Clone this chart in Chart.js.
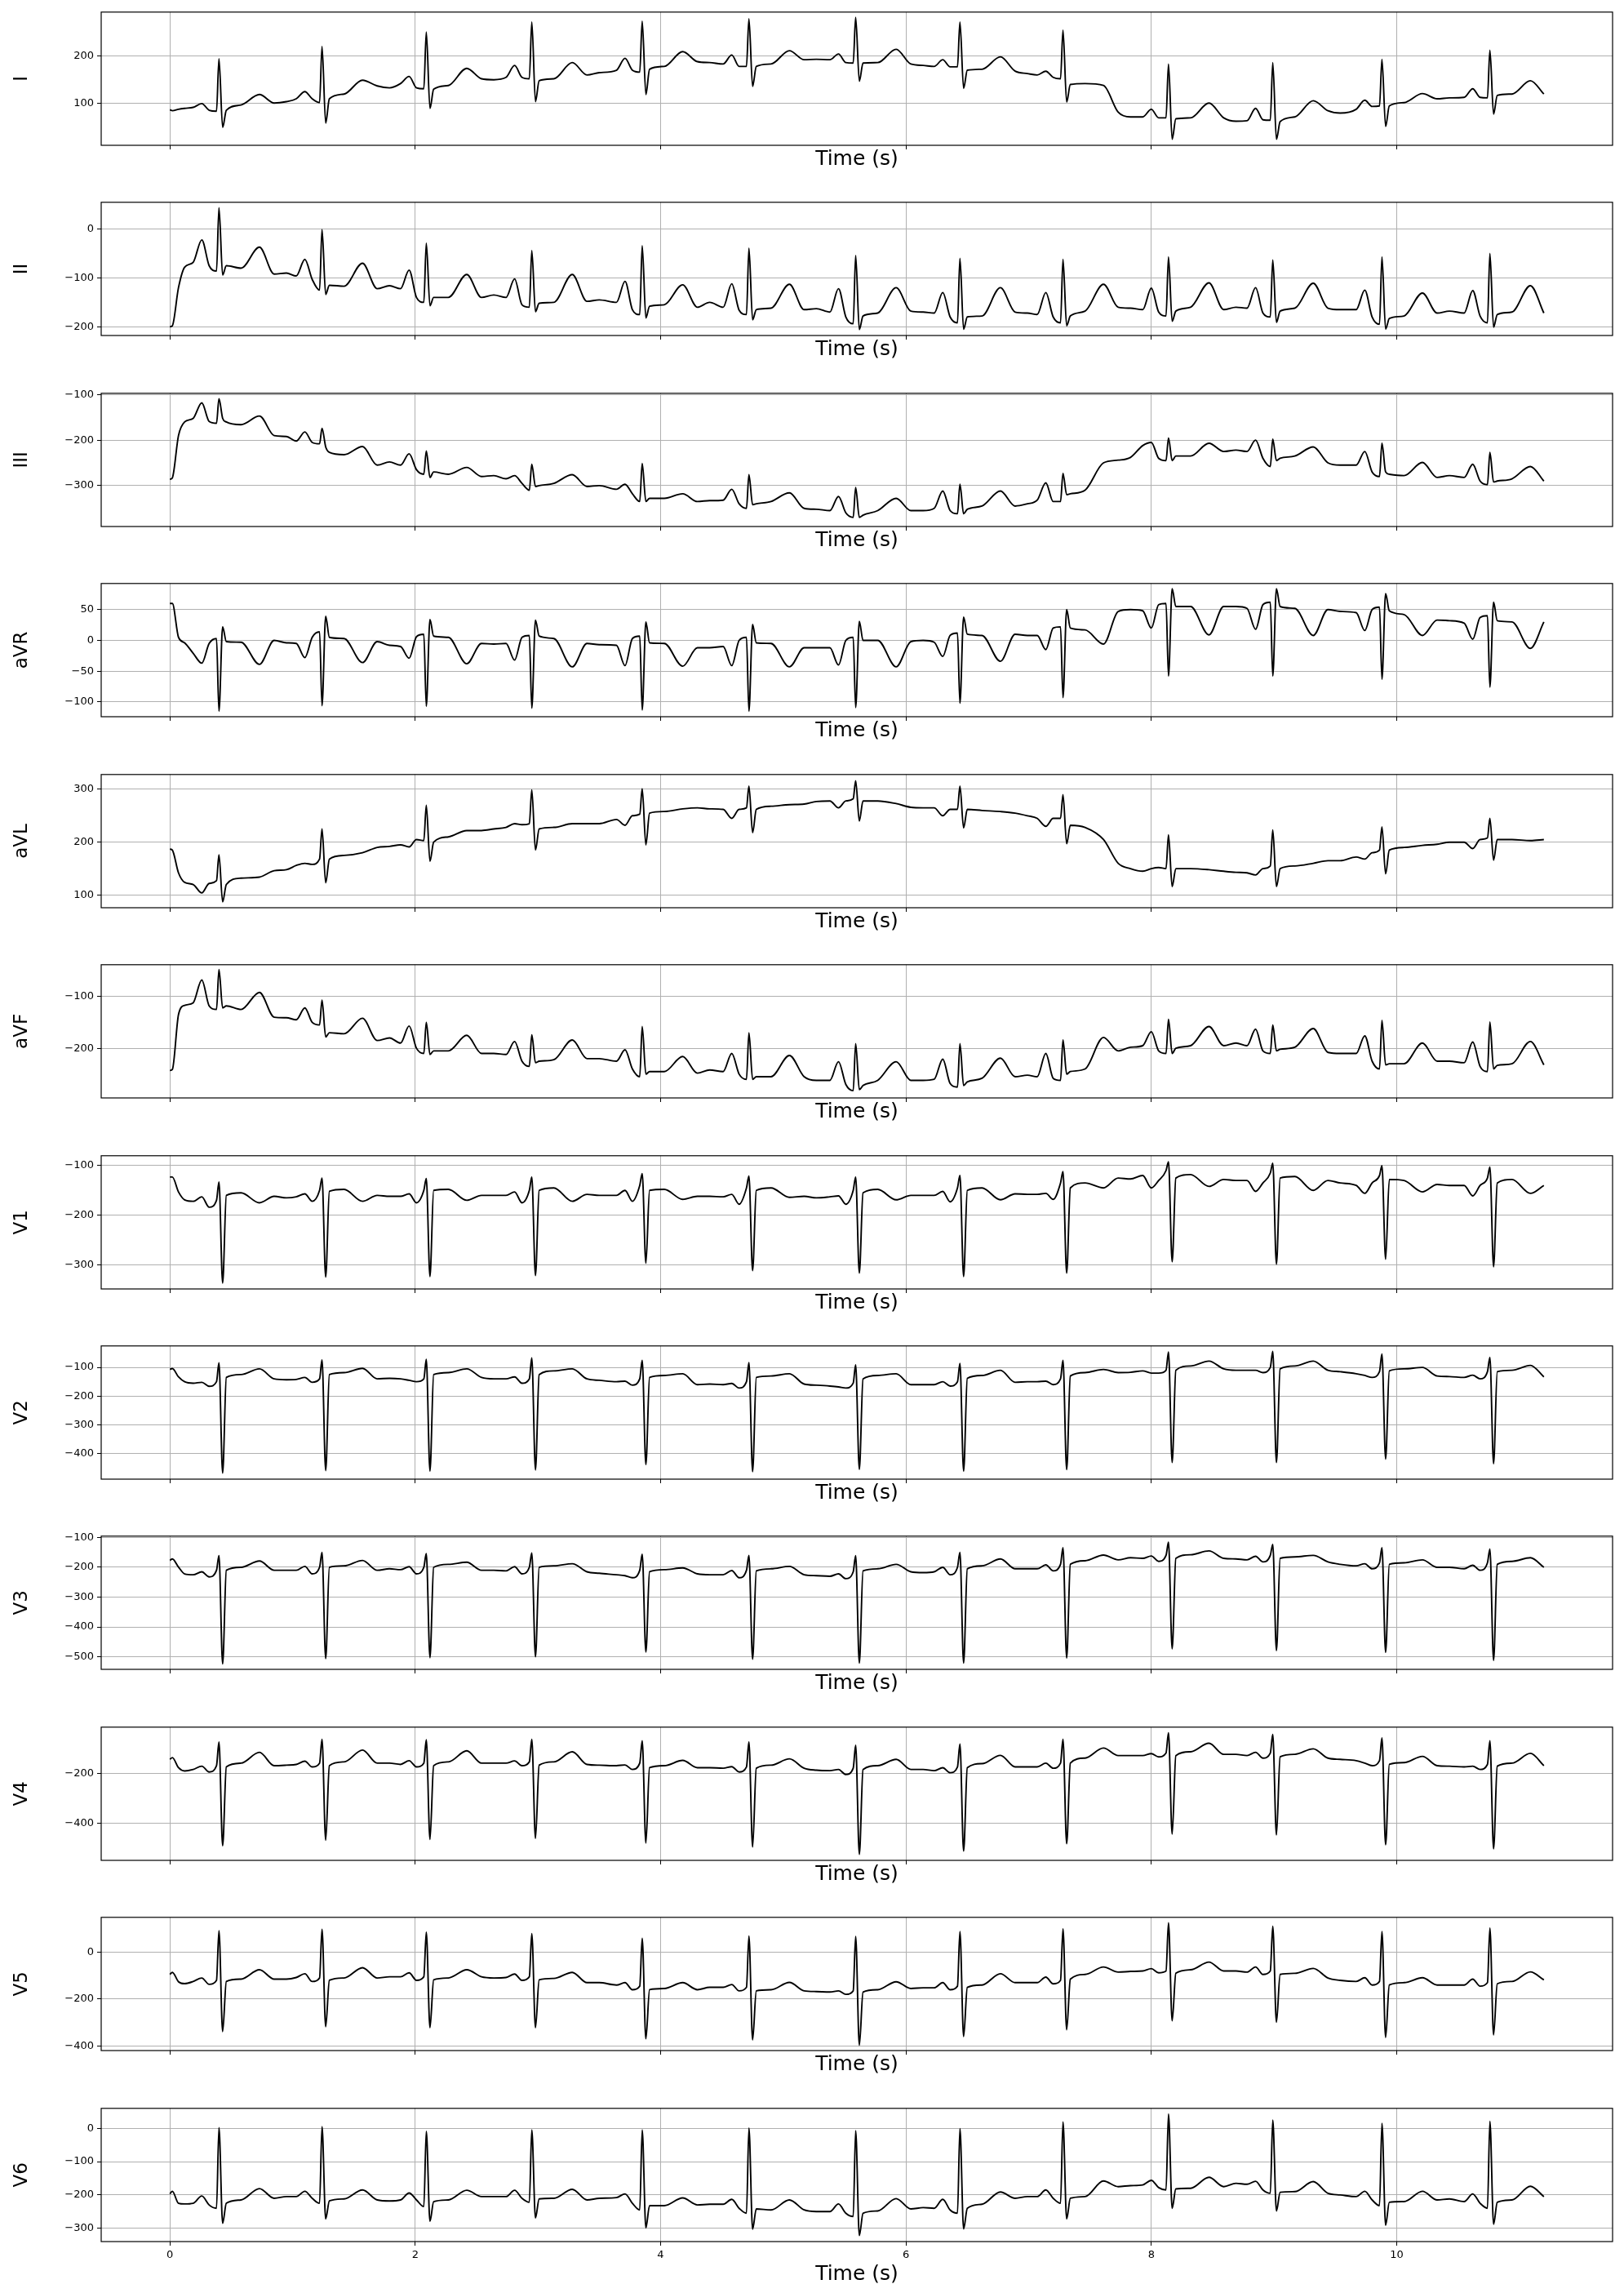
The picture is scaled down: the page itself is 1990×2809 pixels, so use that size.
<!DOCTYPE html>
<html><head><meta charset="utf-8">
<script src="https://cdn.jsdelivr.net/npm/chart.js@4.4.1/dist/chart.umd.min.js"></script>
<style>
html,body{margin:0;padding:0;background:#fff;}
body{width:1990px;height:2809px;position:relative;overflow:hidden;}
canvas{position:absolute;left:0;}
</style></head><body>
<script>
// ---------- DATA ----------
const timeS = [0.00,0.02,0.07,0.12,
0.19,0.26,0.32,0.38,0.40,0.43,0.46,0.58,0.73,0.85,0.95,
1.03,1.10,1.16,1.22,1.24,1.27,1.30,1.42,1.57,1.69,1.79,
1.88,1.95,2.01,2.07,2.09,2.12,2.15,2.27,2.42,2.54,2.64,
2.74,2.81,2.87,2.93,2.95,2.98,3.01,3.13,3.28,3.40,3.50,
3.64,3.71,3.77,3.83,3.85,3.88,3.91,4.03,4.18,4.30,4.40,
4.51,4.58,4.64,4.70,4.72,4.75,4.78,4.90,5.05,5.17,5.27,
5.38,5.45,5.51,5.57,5.59,5.62,5.65,5.77,5.92,6.04,6.14,
6.23,6.30,6.36,6.42,6.44,6.47,6.50,6.62,6.77,6.89,6.99,
7.07,7.14,7.20,7.26,7.28,7.31,7.34,7.46,7.61,7.73,7.83,
7.93,8.00,8.06,8.12,8.14,8.17,8.20,8.32,8.47,8.59,8.69,
8.78,8.85,8.91,8.97,8.99,9.02,9.05,9.17,9.32,9.44,9.54,
9.67,9.74,9.80,9.86,9.88,9.91,9.94,10.06,10.21,10.33,10.43,
10.55,10.62,10.68,10.74,10.76,10.79,10.82,10.94,11.09,11.20];

const leadI = [87,85,88,90,
92,100,86,84,194,50,86,97,119,101,104,
110,125,110,102,220,59,110,120,149,137,133,
142,157,133,131,250,90,130,138,174,152,150,
155,180,155,152,271,104,148,152,186,160,165,
170,195,170,166,273,119,172,178,209,188,186,
183,202,178,178,278,136,178,183,211,192,193,
192,204,186,185,281,147,185,186,214,183,180,
178,192,177,177,271,132,170,172,198,168,163,
160,168,155,152,254,103,140,142,138,82,72,
72,88,70,70,183,25,68,70,101,70,63,
64,90,66,65,186,25,62,72,106,85,80,
88,107,94,95,193,52,95,102,121,110,112,
113,131,113,112,212,78,117,120,148,120];

const leadII = [-200,-198,-120,-78,
-68,-22,-75,-86,44,-94,-75,-80,-37,-92,-90,
-96,-62,-103,-125,-1,-134,-115,-117,-70,-122,-116,
-122,-84,-140,-150,-29,-157,-140,-140,-93,-140,-135,
-140,-102,-155,-160,-44,-169,-152,-150,-93,-148,-145,
-150,-107,-165,-175,-34,-182,-158,-155,-114,-160,-150,
-160,-112,-166,-175,-39,-186,-165,-162,-113,-165,-163,
-170,-122,-180,-194,-54,-206,-178,-172,-120,-168,-170,
-172,-130,-180,-192,-60,-205,-180,-178,-120,-170,-172,
-175,-130,-180,-192,-62,-198,-178,-168,-113,-160,-162,
-165,-121,-170,-178,-57,-189,-168,-160,-110,-165,-160,
-162,-120,-172,-180,-63,-191,-168,-162,-111,-162,-165,
-165,-125,-180,-195,-57,-205,-183,-178,-131,-172,-168,
-172,-126,-178,-192,-50,-201,-175,-170,-116,-172];

const leadIII = [-286,-283,-190,-160,
-152,-118,-159,-163,-109,-152,-160,-166,-147,-190,-192,
-202,-182,-205,-208,-174,-215,-227,-232,-214,-255,-248,
-255,-230,-265,-275,-224,-282,-270,-275,-260,-280,-278,
-285,-278,-295,-310,-253,-302,-300,-295,-276,-302,-300,
-308,-297,-318,-335,-251,-335,-328,-328,-318,-335,-333,
-332,-308,-340,-350,-276,-342,-340,-335,-316,-350,-352,
-355,-324,-360,-370,-304,-370,-365,-355,-328,-355,-355,
-350,-312,-355,-362,-297,-362,-352,-345,-312,-345,-340,
-332,-294,-335,-335,-273,-320,-318,-310,-250,-244,-238,
-212,-205,-240,-245,-195,-245,-235,-235,-207,-225,-222,
-225,-200,-240,-258,-198,-245,-240,-235,-215,-250,-255,
-255,-225,-270,-280,-207,-270,-275,-278,-249,-282,-278,
-282,-253,-290,-298,-227,-292,-290,-285,-258,-290];

const leadAVR = [60,60,5,-4,
-21,-37,-5,3,-115,22,-2,-3,-39,0,-4,
-5,-28,5,14,-106,39,5,3,-36,-2,-8,
-10,-29,6,10,-107,34,7,5,-38,-5,-6,
-5,-32,5,8,-110,33,7,3,-43,-5,-7,
-8,-41,3,7,-113,30,-4,-5,-42,-12,-12,
-10,-41,0,5,-115,26,-4,-5,-43,-12,-12,
-12,-40,0,5,-109,31,0,0,-43,-2,0,
-3,-26,8,12,-102,38,10,8,-34,10,8,
8,-15,20,22,-93,50,20,17,-6,47,50,
48,20,58,60,-58,84,55,55,9,55,55,
52,18,58,62,-58,84,55,52,8,50,47,
45,16,50,54,-63,76,48,42,8,33,32,
28,2,37,40,-76,62,32,30,-13,30];

const leadAVL = [187,185,142,124,
120,104,122,127,176,87,120,132,134,146,148,
156,160,158,168,225,123,168,175,180,190,192,
195,191,205,203,270,164,200,210,222,222,225,
228,235,233,235,299,185,225,228,235,235,235,
243,232,250,253,301,195,255,258,263,265,263,
262,245,262,265,306,218,262,268,271,272,277,
278,265,278,282,316,240,278,278,273,266,265,
265,250,262,262,306,227,262,260,258,255,250,
245,230,245,245,290,197,232,228,205,160,150,
145,150,152,150,214,116,150,150,148,145,143,
142,138,150,155,223,116,150,155,160,165,165,
172,168,180,185,229,140,185,190,194,196,200,
200,188,205,208,245,166,205,205,203,205];

const leadAVF = [-243,-241,-135,-117,
-112,-68,-118,-125,-48,-122,-118,-125,-92,-140,-141,
-145,-122,-150,-155,-107,-178,-170,-172,-142,-185,-180,
-190,-157,-200,-210,-150,-212,-205,-205,-175,-210,-210,
-212,-187,-225,-235,-174,-228,-225,-222,-184,-220,-220,
-225,-203,-240,-255,-158,-250,-245,-245,-216,-248,-242,
-245,-210,-250,-260,-170,-260,-255,-255,-214,-255,-262,
-262,-226,-270,-282,-191,-280,-272,-262,-226,-262,-262,
-260,-221,-268,-275,-191,-272,-265,-258,-219,-255,-252,
-255,-210,-258,-262,-184,-250,-245,-240,-179,-205,-198,
-195,-168,-205,-210,-144,-210,-200,-195,-158,-195,-190,
-195,-163,-205,-210,-155,-205,-202,-198,-162,-208,-210,
-210,-176,-225,-240,-146,-232,-230,-230,-190,-225,-225,
-228,-188,-235,-245,-149,-240,-233,-230,-187,-232];

const leadV1 = [-123,-123,-153,-169,
-172,-163,-184,-170,-133,-337,-160,-155,-175,-162,-165,
-163,-157,-172,-150,-125,-325,-152,-148,-172,-160,-162,
-162,-157,-175,-150,-126,-324,-150,-148,-170,-160,-160,
-160,-153,-175,-150,-123,-322,-150,-145,-172,-158,-160,
-160,-150,-172,-140,-116,-297,-150,-148,-168,-162,-162,
-163,-158,-178,-145,-121,-312,-150,-145,-164,-162,-165,
-163,-161,-178,-150,-123,-317,-155,-148,-169,-160,-160,
-160,-152,-173,-145,-120,-324,-150,-145,-169,-157,-158,
-158,-156,-168,-135,-112,-317,-145,-135,-145,-125,-127,
-120,-145,-130,-110,-92,-294,-125,-118,-142,-128,-130,
-130,-152,-135,-115,-95,-299,-125,-122,-150,-130,-135,
-140,-156,-135,-120,-100,-289,-128,-130,-153,-138,-140,
-140,-161,-140,-125,-103,-304,-135,-128,-156,-140];

const leadV2 = [-107,-104,-133,-150,
-155,-152,-166,-150,-84,-469,-135,-125,-105,-140,-143,
-142,-135,-152,-140,-74,-460,-125,-118,-103,-140,-138,
-140,-145,-150,-140,-72,-462,-125,-118,-105,-135,-140,
-140,-133,-155,-140,-67,-458,-125,-112,-105,-140,-145,
-150,-148,-162,-140,-75,-439,-135,-128,-122,-160,-158,
-160,-156,-172,-150,-83,-464,-135,-130,-122,-158,-162,
-165,-168,-172,-155,-91,-456,-140,-128,-122,-160,-160,
-160,-150,-165,-150,-86,-462,-138,-128,-110,-152,-150,
-150,-148,-160,-140,-75,-457,-130,-118,-107,-118,-117,
-112,-120,-120,-110,-46,-432,-110,-95,-78,-105,-110,
-110,-110,-118,-100,-44,-432,-105,-95,-78,-110,-115,
-122,-128,-135,-115,-53,-420,-112,-105,-100,-130,-132,
-135,-127,-140,-115,-65,-436,-115,-110,-93,-133];

const leadV3 = [-177,-172,-199,-222,
-225,-215,-232,-210,-161,-524,-210,-200,-179,-210,-210,
-210,-197,-222,-200,-150,-506,-200,-195,-177,-210,-205,
-208,-198,-222,-200,-154,-503,-200,-190,-183,-210,-210,
-212,-198,-222,-200,-152,-500,-200,-195,-188,-215,-220,
-225,-228,-235,-210,-156,-484,-215,-208,-202,-222,-225,
-225,-211,-235,-210,-160,-508,-212,-205,-197,-225,-228,
-230,-222,-238,-215,-161,-521,-212,-205,-190,-215,-218,
-215,-200,-225,-200,-150,-521,-205,-195,-172,-205,-205,
-205,-192,-212,-190,-134,-504,-190,-178,-159,-175,-168,
-170,-162,-180,-160,-116,-473,-170,-158,-145,-170,-172,
-175,-163,-182,-160,-123,-479,-170,-165,-160,-182,-190,
-195,-188,-205,-185,-134,-485,-190,-185,-175,-200,-200,
-205,-193,-210,-185,-139,-512,-190,-180,-168,-200];

const leadV4 = [-145,-138,-178,-191,
-185,-172,-195,-170,-76,-488,-175,-160,-117,-170,-168,
-165,-152,-175,-160,-65,-466,-170,-155,-108,-160,-160,
-165,-150,-175,-160,-67,-463,-170,-155,-111,-160,-160,
-160,-151,-170,-155,-65,-459,-168,-155,-115,-165,-168,
-170,-167,-185,-160,-71,-477,-178,-170,-149,-178,-178,
-180,-174,-195,-175,-76,-493,-180,-168,-143,-180,-188,
-190,-185,-205,-180,-89,-522,-185,-170,-145,-185,-185,
-190,-178,-198,-175,-84,-509,-178,-162,-129,-175,-175,
-175,-160,-180,-160,-65,-480,-160,-140,-100,-130,-130,
-130,-122,-135,-120,-39,-442,-130,-115,-81,-125,-125,
-130,-117,-140,-120,-46,-445,-135,-125,-103,-140,-145,
-150,-160,-170,-150,-60,-484,-165,-158,-133,-170,-172,
-175,-172,-185,-165,-71,-500,-172,-160,-121,-170];

const leadV5 = [-95,-86,-126,-134,
-125,-110,-137,-120,92,-339,-125,-115,-75,-115,-115,
-108,-92,-125,-110,98,-318,-120,-110,-66,-110,-105,
-105,-88,-120,-105,86,-322,-118,-110,-75,-105,-110,
-108,-93,-120,-105,80,-322,-118,-112,-86,-130,-130,
-140,-130,-160,-145,60,-370,-160,-155,-130,-160,-150,
-150,-138,-165,-150,69,-374,-165,-160,-129,-165,-168,
-170,-165,-180,-165,67,-397,-170,-160,-126,-155,-152,
-152,-130,-160,-145,88,-360,-150,-140,-92,-130,-130,
-130,-106,-135,-120,100,-331,-115,-95,-63,-85,-82,
-80,-70,-88,-80,126,-293,-90,-75,-42,-80,-80,
-85,-63,-95,-80,111,-299,-95,-90,-69,-110,-120,
-125,-109,-140,-125,88,-364,-140,-130,-109,-140,-140,
-140,-115,-145,-130,103,-353,-135,-125,-84,-118];

const leadV6 = [-197,-189,-225,-227,
-225,-203,-230,-240,2,-285,-225,-215,-181,-210,-205,
-205,-189,-210,-225,5,-272,-218,-212,-185,-215,-218,
-215,-194,-215,-235,-9,-279,-220,-215,-186,-205,-205,
-205,-186,-210,-222,-5,-269,-212,-210,-183,-215,-210,
-208,-197,-225,-245,-5,-299,-232,-232,-209,-230,-228,
-228,-213,-240,-255,1,-303,-242,-245,-215,-245,-250,
-250,-227,-255,-265,-7,-322,-255,-248,-211,-242,-238,
-240,-213,-245,-255,-1,-302,-240,-228,-191,-210,-205,
-205,-185,-210,-225,19,-272,-210,-205,-158,-175,-172,
-170,-156,-178,-185,43,-240,-182,-180,-147,-175,-165,
-168,-159,-185,-195,25,-248,-192,-190,-160,-195,-200,
-205,-189,-215,-232,15,-291,-222,-220,-189,-215,-212,
-220,-197,-225,-240,21,-288,-222,-215,-174,-205];

const leadNames = ['I','II','III','aVR','aVL','aVF','V1','V2','V3','V4','V5','V6'];
const xTickValues = [0, 2, 4, 6, 8, 10];
const yTicksI = [100, 200];
const yTicksII = [-200, -100, 0];
const yTicksIII = [-300, -200, -100];
const yTicksAVR = [-100, -50, 0, 50];
const yTicksAVL = [100, 200, 300];
const yTicksAVF = [-200, -100];
const yTicksV1 = [-300, -200, -100];
const yTicksV2 = [-400, -300, -200, -100];
const yTicksV3 = [-500, -400, -300, -200, -100];
const yTicksV4 = [-400, -200];
const yTicksV5 = [-400, -200, 0];
const yTicksV6 = [-300, -200, -100, 0];
const xLabel = 'Time (s)';

// ---------- LAYOUT / STYLE ----------
const leadValues = [leadI, leadII, leadIII, leadAVR, leadAVL, leadAVF, leadV1, leadV2, leadV3, leadV4, leadV5, leadV6];
const leadTicks = [yTicksI, yTicksII, yTicksIII, yTicksAVR, yTicksAVL, yTicksAVF, yTicksV1, yTicksV2, yTicksV3, yTicksV4, yTicksV5, yTicksV6];
const yLimits = [[12.4,292],[-218,55],[-390,-97],[-124,92.4],[76,328],[-296,-38.5],[-349,-80],[-490,-25],[-542,-95.5],[-546,-17],[-420,149],[-340,60]];

Chart.defaults.font.family = "'DejaVu Sans', sans-serif";
Chart.defaults.color = '#000';

const framePlugin = {
  id: 'frame',
  afterDatasetsDraw(chart) {
    const {ctx, chartArea: a} = chart;
    ctx.save();
    ctx.strokeStyle = '#000';
    ctx.lineWidth = 1.2;
    ctx.strokeRect(a.left, a.top, a.right - a.left, a.bottom - a.top);
    ctx.restore();
  }
};

const fmt = v => (v < 0 ? '\u2212' + Math.abs(v) : String(v));

const PAD_TOP = 10;
const PLOT_H = 165;
const XTITLE_SIZE = 25;
const YTITLE_SIZE = 23;

leadNames.forEach((name, k) => {
  const isLast = k === leadNames.length - 1;
  const plotTop = Math.round(13 + 233.43 * k);
  const xH = isLast ? 55 : 32;
  const canvas = document.createElement('canvas');
  const H = PAD_TOP + PLOT_H + xH;
  canvas.width = 1990; canvas.height = H;
  canvas.style.width = '1990px'; canvas.style.height = H + 'px';
  canvas.style.top = (plotTop - PAD_TOP) + 'px';
  document.body.appendChild(canvas);

  const pts = timeS.map((t, i) => ({x: t, y: leadValues[k][i]}));
  const yt = leadTicks[k];

  new Chart(canvas.getContext('2d'), {
    type: 'line',
    data: { datasets: [{
      data: pts, borderColor: '#000', borderWidth: 1.9, pointRadius: 0,
      fill: false, cubicInterpolationMode: 'monotone'
    }]},
    options: {
      responsive: false, animation: false, devicePixelRatio: 1, events: [],
      parsing: false,
      layout: { padding: { top: PAD_TOP, right: 14, left: 0, bottom: 0 } },
      plugins: { legend: { display: false }, tooltip: { enabled: false } },
      scales: {
        x: {
          type: 'linear', min: -0.56, max: 11.76,
          afterBuildTicks: s => { s.ticks = xTickValues.map(v => ({value: v})); },
          afterFit: s => { s.height = xH; },
          grid: { color: '#b0b0b0', lineWidth: 1, drawTicks: true, tickLength: 5, tickColor: '#000', tickWidth: 1 },
          border: { display: false },
          ticks: { display: isLast, font: { size: 13 }, color: '#000', padding: 4, maxRotation: 0, callback: v => fmt(v) },
          title: { display: true, text: xLabel, font: { size: XTITLE_SIZE }, color: '#000', padding: { top: 0, bottom: 0 } }
        },
        y: {
          type: 'linear', min: yLimits[k][0], max: yLimits[k][1],
          afterBuildTicks: s => { s.ticks = yt.map(v => ({value: v})); },
          afterFit: s => { s.width = 124; },
          grid: { color: '#b0b0b0', lineWidth: 1, drawTicks: true, tickLength: 5, tickColor: '#000', tickWidth: 1 },
          border: { display: false },
          ticks: { font: { size: 13 }, color: '#000', padding: 4, callback: v => fmt(v) },
          title: { display: true, text: name, font: { size: YTITLE_SIZE }, color: '#000', padding: { top: 13, bottom: 0 } }
        }
      }
    },
    plugins: [framePlugin]
  });
});
</script>
</body></html>
